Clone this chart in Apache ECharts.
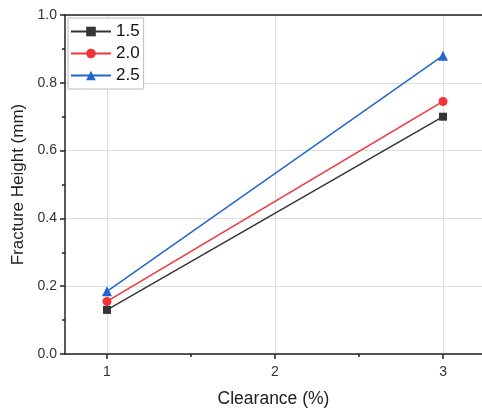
<!DOCTYPE html>
<html><head><meta charset="utf-8">
<script src="https://cdn.jsdelivr.net/npm/echarts@6/dist/echarts.min.js"></script>
<style>html,body{margin:0;padding:0;background:#fff}#c{width:482px;height:410px}</style>
</head><body><div id="c"></div>
<script>
const clearance = [1, 3];
const s15 = [0.13, 0.70];
const s20 = [0.155, 0.745];
const s25 = [0.185, 0.88];
const seriesNames = ['1.5', '2.0', '2.5'];
const xTicks = [1, 2, 3];
const xMinorTicks = [1.5, 2.5];

const chart = echarts.init(document.getElementById('c'));
const font = 'Arial, "Liberation Sans", sans-serif';
function pts(v){ return clearance.map((x,i)=>[x, v[i]]); }
const colors = ['#353535', '#f0343a', '#2166cc'];
const symbols = ['rect', 'circle', 'triangle'];
const sizes = [8, 9, 10];
const data = [s15, s20, s25];
const XMIN = 0.75, XMAX = 3.232;
chart.setOption({
  animation: false,
  grid: {left: 65, top: 15, right: 0, bottom: 56, outerBoundsMode: 'none', containLabel: false},
  legend: {
    orient: 'vertical', left: 68, top: 18, padding: [5, 4, 5, 2],
    borderColor: '#bbb', borderWidth: 1, backgroundColor: '#fff',
    itemWidth: 40, itemHeight: 12, itemGap: 5,
    textStyle: {fontSize: 17, lineHeight: 16, fontFamily: font, color: '#111'},
    data: seriesNames
  },
  xAxis: [{
    type: 'value', min: XMIN, max: XMAX,
    name: 'Clearance (%)', nameLocation: 'middle', nameGap: 36,
    nameTextStyle: {fontSize: 17.5, fontFamily: font, color: '#222'},
    axisLine: {show: true, onZero: false, lineStyle: {color: '#222', width: 1.5}},
    axisTick: {show: true, customValues: xTicks, length: 5, lineStyle: {color: '#222', width: 1.5}},
    axisLabel: {customValues: xTicks, fontSize: 14, fontFamily: font, color: '#333', margin: 11},
    splitLine: {show: true, lineStyle: {color: '#ddd', width: 1}}
  }, {
    type: 'value', min: XMIN, max: XMAX, position: 'bottom',
    axisLine: {show: false},
    axisTick: {show: true, customValues: xMinorTicks, length: 3, lineStyle: {color: '#222', width: 1.5}},
    axisLabel: {show: false}, splitLine: {show: false}
  }, {
    type: 'value', min: XMIN, max: XMAX, position: 'top',
    axisLine: {show: true, onZero: false, lineStyle: {color: '#222', width: 1.5}},
    axisTick: {show: false}, axisLabel: {show: false}, splitLine: {show: false}
  }],
  yAxis: {
    type: 'value', min: 0, max: 1, interval: 0.2,
    name: 'Fracture Height (mm)', nameLocation: 'middle', nameGap: 35,
    nameTextStyle: {fontSize: 17, fontFamily: font, color: '#222'},
    axisLine: {show: true, lineStyle: {color: '#222', width: 1.5}},
    axisTick: {show: true, length: 5, lineStyle: {color: '#222', width: 1.5}},
    minorTick: {show: true, splitNumber: 2, length: 3, lineStyle: {color: '#222', width: 1.5}},
    axisLabel: {fontSize: 14, fontFamily: font, color: '#333', margin: 8, formatter: v => v.toFixed(1)},
    splitLine: {show: true, lineStyle: {color: '#ddd', width: 1}}
  },
  series: seriesNames.map((n, i) => ({
    name: n, type: 'line', data: pts(data[i]),
    symbol: symbols[i], symbolSize: sizes[i], showSymbol: true,
    itemStyle: {color: colors[i]},
    lineStyle: {color: colors[i], width: 1.5}
  }))
});
</script></body></html>
